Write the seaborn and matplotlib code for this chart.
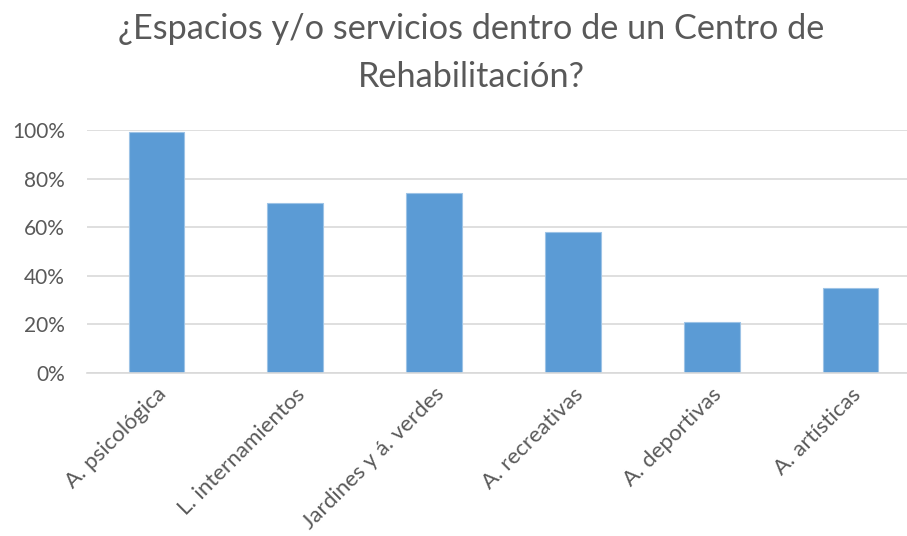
import matplotlib
matplotlib.use("Agg")
import matplotlib.pyplot as plt
import seaborn as sns
import pandas as pd
from matplotlib.ticker import PercentFormatter

categories = ["A. psicológica", "L. internamientos", "Jardines y á. verdes",
              "A. recreativas", "A. deportivas", "A. artísticas"]
values = [0.99, 0.70, 0.74, 0.58, 0.21, 0.35]
title = "¿Espacios y/o servicios dentro de un Centro de\nRehabilitación?"

sns.set_theme(style="white")
plt.rcParams['font.family'] = ['Lato', 'DejaVu Sans']

df = pd.DataFrame({"cat": categories, "val": values})

W, H = 907, 536
fig = plt.figure(figsize=(W / 100, H / 100), dpi=100)
ax = fig.add_axes([87 / W, 163 / H, 833 / W, 243 / H])

sns.barplot(data=df, x="cat", y="val", ax=ax, color="#5B9BD5", width=0.4,
            edgecolor="#9DC3E6", linewidth=0.8, saturation=1)

ax.set_xlim(-0.5, 5.5)
ax.set_ylim(0, 1.0)
ax.set_yticks([0, 0.2, 0.4, 0.6, 0.8, 1.0])
ax.yaxis.set_major_formatter(PercentFormatter(1.0, decimals=0))
ax.grid(axis="y", color="#D9D9D9", linewidth=1.2)
ax.set_axisbelow(True)
for s in ["top", "right", "left"]:
    ax.spines[s].set_visible(False)
ax.spines["bottom"].set_color("#D9D9D9")
ax.spines["bottom"].set_linewidth(1.2)
ax.set_xlabel("")
ax.set_ylabel("")
ax.tick_params(axis="both", length=0, labelcolor="#595959")
ax.tick_params(axis="y", pad=16, labelsize=15)
ax.tick_params(axis="x", pad=8, labelsize=16)
for lab in ax.get_xticklabels():
    lab.set_rotation(45)
    lab.set_ha("right")
    lab.set_rotation_mode("anchor")

fig.text(471 / W, 1 - 53 / H, title, ha="center", va="center", fontsize=24.7,
         color="#595959", linespacing=1.6)

fig.savefig("out.png", dpi=100, facecolor="white")
